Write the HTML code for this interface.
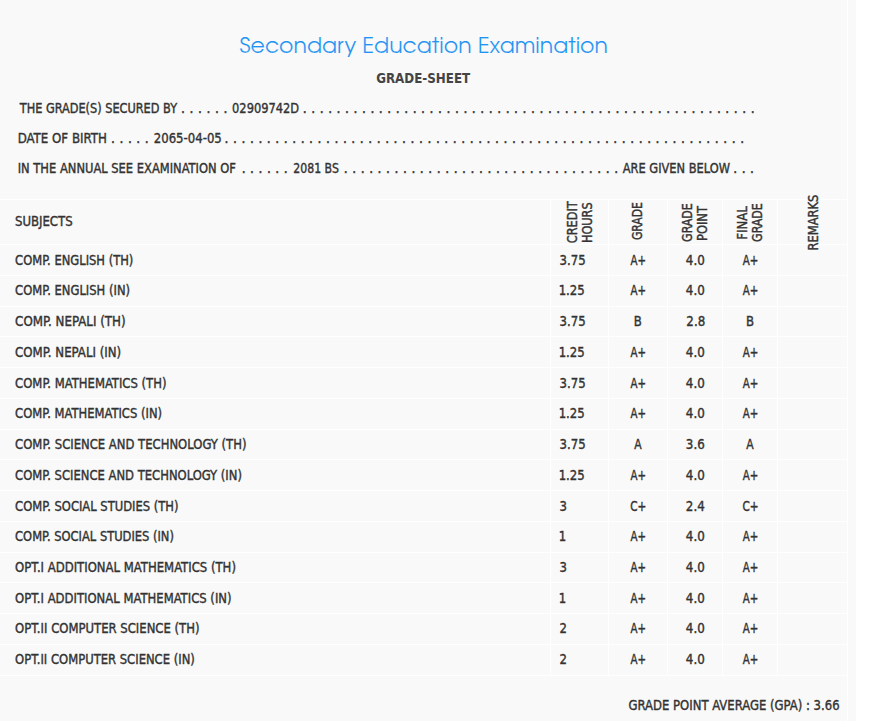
<!DOCTYPE html>
<html><head><meta charset="utf-8"><title>SEE Grade Sheet</title><style>
html,body{margin:0;padding:0;width:885px;height:721px;overflow:hidden;background:#fff}
svg{display:block}
text{font-family:"DejaVu Sans Condensed","DejaVu Sans",sans-serif;font-size:13.7px;fill:#333;stroke:#333;stroke-width:0.38px;white-space:pre}
text.title{font-family:"TeX Gyre Adventor","Century Gothic","DejaVu Sans",sans-serif;font-size:21.2px;fill:#1e93f2;stroke:#f9f9f9;stroke-width:0.12px}
text.gs{font-weight:bold;font-size:14px;stroke:none;fill:#444}
text.rot{stroke-width:0.4px}
</style></head>
<body><svg width="885" height="721" viewBox="0 0 885 721">
<rect x="0" y="0" width="856" height="721" fill="#f9f9f9"/>
<rect x="847" y="0" width="1" height="721" fill="#fff"/>
<rect x="0" y="199" width="847" height="1" fill="#fff"/>
<rect x="0" y="244" width="847" height="1" fill="#fff"/>
<rect x="0" y="275" width="847" height="1" fill="#fff"/>
<rect x="0" y="306" width="847" height="1" fill="#fff"/>
<rect x="0" y="336" width="847" height="1" fill="#fff"/>
<rect x="0" y="367" width="847" height="1" fill="#fff"/>
<rect x="0" y="398" width="847" height="1" fill="#fff"/>
<rect x="0" y="429" width="847" height="1" fill="#fff"/>
<rect x="0" y="459" width="847" height="1" fill="#fff"/>
<rect x="0" y="490" width="847" height="1" fill="#fff"/>
<rect x="0" y="521" width="847" height="1" fill="#fff"/>
<rect x="0" y="552" width="847" height="1" fill="#fff"/>
<rect x="0" y="582" width="847" height="1" fill="#fff"/>
<rect x="0" y="613" width="847" height="1" fill="#fff"/>
<rect x="0" y="644" width="847" height="1" fill="#fff"/>
<rect x="0" y="675" width="847" height="1" fill="#fff"/>
<rect x="550" y="200" width="1" height="475" fill="#fff"/>
<rect x="608" y="200" width="1" height="475" fill="#fff"/>
<rect x="667" y="200" width="1" height="475" fill="#fff"/>
<rect x="722" y="200" width="1" height="475" fill="#fff"/>
<rect x="777" y="200" width="1" height="475" fill="#fff"/>
<text x="239.60" y="53" textLength="368.36" lengthAdjust="spacingAndGlyphs" class="title">Secondary Education Examination</text>
<text x="376.20" y="83" textLength="94.02" lengthAdjust="spacingAndGlyphs" class="gs">GRADE-SHEET</text>
<text x="19.72" y="113" textLength="157.34" lengthAdjust="spacingAndGlyphs">THE GRADE(S) SECURED BY</text>
<text x="181.05" y="113" letter-spacing="0.325">. . . . . .</text>
<text x="232.10" y="113" textLength="66.95" lengthAdjust="spacingAndGlyphs">02909742D</text>
<text x="302.80" y="113" letter-spacing="0.316">. . . . . . . . . . . . . . . . . . . . . . . . . . . . . . . . . . . . . . . . . . . . . . . . . . . . . .</text>
<text x="17.69" y="143" textLength="89.16" lengthAdjust="spacingAndGlyphs">DATE OF BIRTH</text>
<text x="111.10" y="143" letter-spacing="0.290">. . . . .</text>
<text x="153.80" y="143" textLength="67.99" lengthAdjust="spacingAndGlyphs">2065-04-05</text>
<text x="224.60" y="143" letter-spacing="0.316">. . . . . . . . . . . . . . . . . . . . . . . . . . . . . . . . . . . . . . . . . . . . . . . . . . . . . . . . . . . . . .</text>
<text x="17.72" y="173" textLength="218.16" lengthAdjust="spacingAndGlyphs">IN THE ANNUAL SEE EXAMINATION OF</text>
<text x="241.70" y="173" letter-spacing="0.300">. . . . . .</text>
<text x="293.30" y="173" textLength="45.54" lengthAdjust="spacingAndGlyphs">2081 BS</text>
<text x="343.80" y="173" letter-spacing="0.315">. . . . . . . . . . . . . . . . . . . . . . . . . . . . . . . . .</text>
<text x="622.70" y="173" textLength="107.26" lengthAdjust="spacingAndGlyphs">ARE GIVEN BELOW</text>
<text x="733.20" y="173" letter-spacing="0.315">. . .</text>
<text x="15.00" y="226" textLength="57.63" lengthAdjust="spacingAndGlyphs">SUBJECTS</text>
<text class="rot" transform="translate(576.60 243.30) rotate(-90)" x="0" y="0" textLength="42.06" lengthAdjust="spacingAndGlyphs">CREDIT</text>
<text class="rot" transform="translate(591.80 243.12) rotate(-90)" x="0" y="0" textLength="40.75" lengthAdjust="spacingAndGlyphs">HOURS</text>
<text class="rot" transform="translate(641.70 240.10) rotate(-90)" x="0" y="0" textLength="37.98" lengthAdjust="spacingAndGlyphs">GRADE</text>
<text class="rot" transform="translate(691.60 241.90) rotate(-90)" x="0" y="0" textLength="38.70" lengthAdjust="spacingAndGlyphs">GRADE</text>
<text class="rot" transform="translate(706.80 241.03) rotate(-90)" x="0" y="0" textLength="34.98" lengthAdjust="spacingAndGlyphs">POINT</text>
<text class="rot" transform="translate(746.50 239.75) rotate(-90)" x="0" y="0" textLength="33.41" lengthAdjust="spacingAndGlyphs">FINAL</text>
<text class="rot" transform="translate(761.90 241.90) rotate(-90)" x="0" y="0" textLength="38.70" lengthAdjust="spacingAndGlyphs">GRADE</text>
<text class="rot" transform="translate(817.90 250.43) rotate(-90)" x="0" y="0" textLength="55.76" lengthAdjust="spacingAndGlyphs">REMARKS</text>
<text x="15.10" y="265" textLength="118.25" lengthAdjust="spacingAndGlyphs">COMP. ENGLISH (TH)</text>
<text x="559.60" y="265" textLength="26.04" lengthAdjust="spacingAndGlyphs">3.75</text>
<text x="630.46" y="265" textLength="15.55" lengthAdjust="spacingAndGlyphs">A+</text>
<text x="685.87" y="265" textLength="18.89" lengthAdjust="spacingAndGlyphs">4.0</text>
<text x="742.66" y="265" textLength="15.55" lengthAdjust="spacingAndGlyphs">A+</text>
<text x="15.10" y="295" textLength="114.96" lengthAdjust="spacingAndGlyphs">COMP. ENGLISH (IN)</text>
<text x="558.65" y="295" textLength="26.04" lengthAdjust="spacingAndGlyphs">1.25</text>
<text x="630.46" y="295" textLength="15.55" lengthAdjust="spacingAndGlyphs">A+</text>
<text x="685.87" y="295" textLength="18.89" lengthAdjust="spacingAndGlyphs">4.0</text>
<text x="742.66" y="295" textLength="15.55" lengthAdjust="spacingAndGlyphs">A+</text>
<text x="15.10" y="326" textLength="110.58" lengthAdjust="spacingAndGlyphs">COMP. NEPALI (TH)</text>
<text x="559.60" y="326" textLength="26.04" lengthAdjust="spacingAndGlyphs">3.75</text>
<text x="633.82" y="326" textLength="8.03" lengthAdjust="spacingAndGlyphs">B</text>
<text x="686.36" y="326" textLength="18.89" lengthAdjust="spacingAndGlyphs">2.8</text>
<text x="746.02" y="326" textLength="8.03" lengthAdjust="spacingAndGlyphs">B</text>
<text x="15.10" y="357" textLength="106.07" lengthAdjust="spacingAndGlyphs">COMP. NEPALI (IN)</text>
<text x="558.65" y="357" textLength="26.04" lengthAdjust="spacingAndGlyphs">1.25</text>
<text x="630.46" y="357" textLength="15.55" lengthAdjust="spacingAndGlyphs">A+</text>
<text x="685.87" y="357" textLength="18.89" lengthAdjust="spacingAndGlyphs">4.0</text>
<text x="742.66" y="357" textLength="15.55" lengthAdjust="spacingAndGlyphs">A+</text>
<text x="15.10" y="388" textLength="151.36" lengthAdjust="spacingAndGlyphs">COMP. MATHEMATICS (TH)</text>
<text x="559.60" y="388" textLength="26.04" lengthAdjust="spacingAndGlyphs">3.75</text>
<text x="630.46" y="388" textLength="15.55" lengthAdjust="spacingAndGlyphs">A+</text>
<text x="685.87" y="388" textLength="18.89" lengthAdjust="spacingAndGlyphs">4.0</text>
<text x="742.66" y="388" textLength="15.55" lengthAdjust="spacingAndGlyphs">A+</text>
<text x="15.10" y="418" textLength="146.96" lengthAdjust="spacingAndGlyphs">COMP. MATHEMATICS (IN)</text>
<text x="558.65" y="418" textLength="26.04" lengthAdjust="spacingAndGlyphs">1.25</text>
<text x="630.46" y="418" textLength="15.55" lengthAdjust="spacingAndGlyphs">A+</text>
<text x="685.87" y="418" textLength="18.89" lengthAdjust="spacingAndGlyphs">4.0</text>
<text x="742.66" y="418" textLength="15.55" lengthAdjust="spacingAndGlyphs">A+</text>
<text x="15.10" y="449" textLength="231.36" lengthAdjust="spacingAndGlyphs">COMP. SCIENCE AND TECHNOLOGY (TH)</text>
<text x="559.60" y="449" textLength="26.04" lengthAdjust="spacingAndGlyphs">3.75</text>
<text x="634.14" y="449" textLength="7.41" lengthAdjust="spacingAndGlyphs">A</text>
<text x="685.87" y="449" textLength="18.89" lengthAdjust="spacingAndGlyphs">3.6</text>
<text x="746.34" y="449" textLength="7.41" lengthAdjust="spacingAndGlyphs">A</text>
<text x="15.10" y="480" textLength="226.86" lengthAdjust="spacingAndGlyphs">COMP. SCIENCE AND TECHNOLOGY (IN)</text>
<text x="558.65" y="480" textLength="26.04" lengthAdjust="spacingAndGlyphs">1.25</text>
<text x="630.46" y="480" textLength="15.55" lengthAdjust="spacingAndGlyphs">A+</text>
<text x="685.87" y="480" textLength="18.89" lengthAdjust="spacingAndGlyphs">4.0</text>
<text x="742.66" y="480" textLength="15.55" lengthAdjust="spacingAndGlyphs">A+</text>
<text x="15.10" y="511" textLength="163.35" lengthAdjust="spacingAndGlyphs">COMP. SOCIAL STUDIES (TH)</text>
<text x="559.60" y="511" textLength="7.44" lengthAdjust="spacingAndGlyphs">3</text>
<text x="630.19" y="511" textLength="16.08" lengthAdjust="spacingAndGlyphs">C+</text>
<text x="685.87" y="511" textLength="18.89" lengthAdjust="spacingAndGlyphs">2.4</text>
<text x="742.39" y="511" textLength="16.08" lengthAdjust="spacingAndGlyphs">C+</text>
<text x="15.10" y="541" textLength="158.85" lengthAdjust="spacingAndGlyphs">COMP. SOCIAL STUDIES (IN)</text>
<text x="558.65" y="541" textLength="7.44" lengthAdjust="spacingAndGlyphs">1</text>
<text x="630.46" y="541" textLength="15.55" lengthAdjust="spacingAndGlyphs">A+</text>
<text x="685.87" y="541" textLength="18.89" lengthAdjust="spacingAndGlyphs">4.0</text>
<text x="742.66" y="541" textLength="15.55" lengthAdjust="spacingAndGlyphs">A+</text>
<text x="15.10" y="572" textLength="220.86" lengthAdjust="spacingAndGlyphs">OPT.I ADDITIONAL MATHEMATICS (TH)</text>
<text x="559.60" y="572" textLength="7.44" lengthAdjust="spacingAndGlyphs">3</text>
<text x="630.46" y="572" textLength="15.55" lengthAdjust="spacingAndGlyphs">A+</text>
<text x="685.87" y="572" textLength="18.89" lengthAdjust="spacingAndGlyphs">4.0</text>
<text x="742.66" y="572" textLength="15.55" lengthAdjust="spacingAndGlyphs">A+</text>
<text x="15.10" y="603" textLength="216.46" lengthAdjust="spacingAndGlyphs">OPT.I ADDITIONAL MATHEMATICS (IN)</text>
<text x="558.65" y="603" textLength="7.44" lengthAdjust="spacingAndGlyphs">1</text>
<text x="630.46" y="603" textLength="15.55" lengthAdjust="spacingAndGlyphs">A+</text>
<text x="685.87" y="603" textLength="18.89" lengthAdjust="spacingAndGlyphs">4.0</text>
<text x="742.66" y="603" textLength="15.55" lengthAdjust="spacingAndGlyphs">A+</text>
<text x="15.10" y="633" textLength="184.46" lengthAdjust="spacingAndGlyphs">OPT.II COMPUTER SCIENCE (TH)</text>
<text x="559.60" y="633" textLength="7.44" lengthAdjust="spacingAndGlyphs">2</text>
<text x="630.46" y="633" textLength="15.55" lengthAdjust="spacingAndGlyphs">A+</text>
<text x="685.87" y="633" textLength="18.89" lengthAdjust="spacingAndGlyphs">4.0</text>
<text x="742.66" y="633" textLength="15.55" lengthAdjust="spacingAndGlyphs">A+</text>
<text x="15.10" y="664" textLength="179.76" lengthAdjust="spacingAndGlyphs">OPT.II COMPUTER SCIENCE (IN)</text>
<text x="559.60" y="664" textLength="7.44" lengthAdjust="spacingAndGlyphs">2</text>
<text x="630.46" y="664" textLength="15.55" lengthAdjust="spacingAndGlyphs">A+</text>
<text x="685.87" y="664" textLength="18.89" lengthAdjust="spacingAndGlyphs">4.0</text>
<text x="742.66" y="664" textLength="15.55" lengthAdjust="spacingAndGlyphs">A+</text>
<text x="628.50" y="710" textLength="211.04" lengthAdjust="spacingAndGlyphs">GRADE POINT AVERAGE (GPA) : 3.66</text>
</svg></body></html>
